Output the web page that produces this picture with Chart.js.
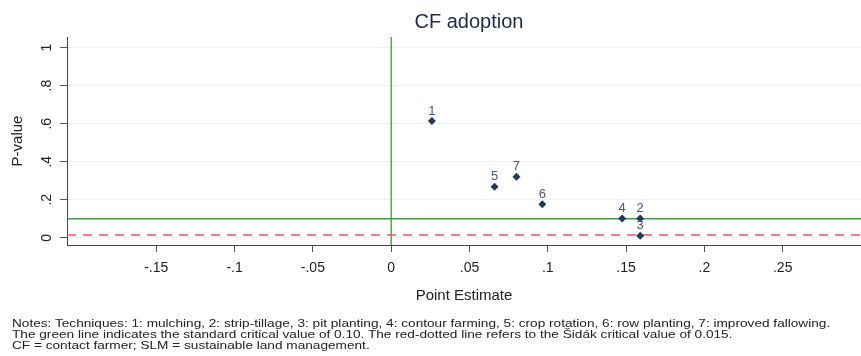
<!DOCTYPE html>
<html>
<head>
<meta charset="utf-8">
<script src="https://cdn.jsdelivr.net/npm/chart.js@4"></script>
<style>
    body { margin: 0; background: #fff; }
    #wrap { position: relative; width: 861px; height: 356px; overflow: hidden; }
    #notes {
        position: absolute; left: 12px; top: 318px;
        font-family: 'Liberation Sans Narrow', 'Liberation Sans', Arial, sans-serif;
        font-size: 11px; line-height: 11px; color: #222;
        white-space: nowrap; transform-origin: 0 0;
    }
</style>
</head>
<body>
<div id="wrap">
    <canvas id="cfChart" width="861" height="356"></canvas>
    <div id="notes">
        <div>Notes: Techniques: 1: mulching, 2: strip-tillage, 3: pit planting, 4: contour farming, 5: crop rotation, 6: row planting, 7: improved fallowing.</div>
        <div>The green line indicates the standard critical value of 0.10. The red-dotted line refers to the Šidák critical value of 0.015.</div>
        <div>CF = contact farmer; SLM = sustainable land management.</div>
    </div>
</div>
<script>
const techIds = ['1', '2', '3', '4', '5', '6', '7'];
const pointEstimates = [0.026, 0.159, 0.159, 0.1475, 0.066, 0.0965, 0.080];
const pValues = [0.614, 0.101, 0.010, 0.101, 0.268, 0.176, 0.321];

const xTicks = [-0.15, -0.1, -0.05, 0, 0.05, 0.1, 0.15, 0.2, 0.25];
const yTicks = [0, 0.2, 0.4, 0.6, 0.8, 1];

const standardCritical = 0.10;
const sidakCritical = 0.015;

const fontFamily = "'Liberation Sans', Arial, sans-serif";

// stata style: drop the leading zero
function stataLabel(v) {
    const r = Math.round(v * 100) / 100;
    if (r === 0) return '0';
    return String(r).replace('0.', '.');
}

const extrasPlugin = {
    id: 'extras',
    beforeDatasetsDraw(chart) {
        const { ctx, chartArea, scales } = chart;
        const yStd = scales.y.getPixelForValue(standardCritical);
        const ySidak = scales.y.getPixelForValue(sidakCritical);
        const x0 = scales.x.getPixelForValue(0);
        ctx.save();
        ctx.lineWidth = 1.3;
        ctx.strokeStyle = '#3d9a3d';
        ctx.beginPath();
        ctx.moveTo(chartArea.left, yStd);
        ctx.lineTo(chartArea.right, yStd);
        ctx.moveTo(x0, chartArea.top);
        ctx.lineTo(x0, chartArea.bottom);
        ctx.stroke();
        ctx.strokeStyle = '#e8585c';
        ctx.lineWidth = 1.5;
        ctx.setLineDash([9, 7]);
        ctx.beginPath();
        ctx.moveTo(chartArea.left, ySidak);
        ctx.lineTo(chartArea.right, ySidak);
        ctx.stroke();
        ctx.restore();
    },
    afterDraw(chart) {
        const { ctx, chartArea, scales } = chart;
        ctx.save();
        // title
        ctx.fillStyle = '#1c2b4d';
        ctx.font = '20px ' + fontFamily;
        ctx.textAlign = 'center';
        ctx.textBaseline = 'middle';
        ctx.fillText('CF adoption', (chartArea.left + chartArea.right) / 2 + 5, 22);

        // rotated y tick labels
        ctx.fillStyle = '#222';
        ctx.font = '14px ' + fontFamily;
        yTicks.forEach(v => {
            const y = scales.y.getPixelForValue(v);
            ctx.save();
            ctx.translate(47, y);
            ctx.rotate(-Math.PI / 2);
            ctx.fillText(stataLabel(v), 0, 0);
            ctx.restore();
        });

        // point labels
        ctx.fillStyle = '#3b5a85';
        ctx.font = '13px ' + fontFamily;
        const meta = chart.getDatasetMeta(0);
        meta.data.forEach((pt, i) => {
            ctx.fillText(techIds[i], pt.x, pt.y - 10);
        });
        ctx.restore();
    }
};

const ctx = document.getElementById('cfChart').getContext('2d');
const cfChart = new Chart(ctx, {
    type: 'scatter',
    data: {
        datasets: [{
            data: pointEstimates.map((x, i) => ({ x: x, y: pValues[i] })),
            pointStyle: 'rectRot',
            pointRadius: 4,
            backgroundColor: '#1b3a64',
            borderColor: '#1b3a64',
            borderWidth: 0
        }]
    },
    options: {
        responsive: false,
        animation: false,
        devicePixelRatio: 1,
        layout: {
            autoPadding: false,
            padding: { top: 37, left: 0, right: 0, bottom: 0 }
        },
        plugins: {
            legend: { display: false },
            tooltip: { enabled: false }
        },
        scales: {
            x: {
                type: 'linear',
                min: -0.207,
                max: 0.300,
                afterBuildTicks: (scale) => { scale.ticks = xTicks.map(v => ({ value: v })); },
                afterFit: (scale) => {
                    scale.height = 111;
                    scale.paddingLeft = 0;
                    scale.paddingRight = 0;
                },
                ticks: {
                    callback: (v) => stataLabel(v),
                    color: '#222',
                    font: { family: fontFamily, size: 14 },
                    padding: 8,
                    maxRotation: 0
                },
                grid: { drawOnChartArea: false, tickLength: 7, tickColor: '#555' },
                border: { color: '#444', width: 1 },
                title: {
                    display: true,
                    text: 'Point Estimate',
                    color: '#222',
                    font: { family: fontFamily, size: 15 },
                    padding: { top: 0, bottom: 51 }
                }
            },
            y: {
                type: 'linear',
                min: -0.038,
                max: 1.056,
                afterBuildTicks: (scale) => { scale.ticks = yTicks.map(v => ({ value: v })); },
                afterFit: (scale) => {
                    scale.width = 67;
                    scale.paddingTop = 0;
                    scale.paddingBottom = 0;
                },
                ticks: { display: false },
                grid: { color: '#edf1f4', tickLength: 7, tickColor: '#555' },
                border: { color: '#444', width: 1 },
                title: {
                    display: true,
                    text: 'P-value',
                    color: '#222',
                    font: { family: fontFamily, size: 15 },
                    padding: { top: 9, bottom: 0 }
                }
            }
        }
    },
    plugins: [extrasPlugin]
});

// stretch notes to the width seen in the figure
const notes = document.getElementById('notes');
const firstLine = notes.firstElementChild;
const targetWidth = 818;
notes.style.transform = 'scaleX(' + (targetWidth / firstLine.scrollWidth) + ')';
</script>
</body>
</html>
